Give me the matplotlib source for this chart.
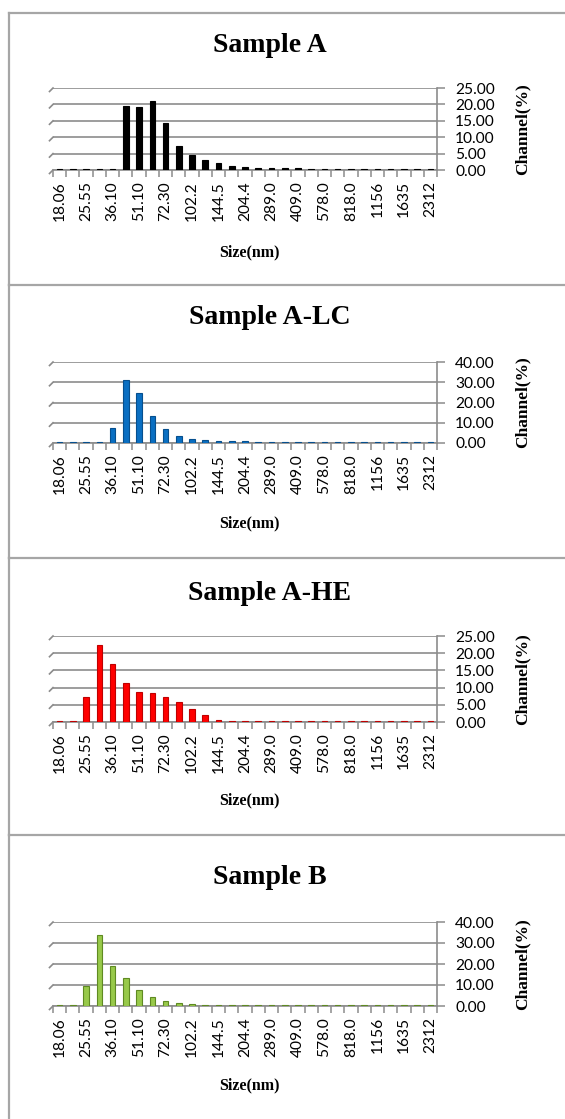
import matplotlib
matplotlib.use("Agg")
import matplotlib.pyplot as plt
from matplotlib.ticker import FixedLocator, FormatStrFormatter
from matplotlib.lines import Line2D

categories = ['18.06', '21.50', '25.55', '30.41', '36.10', '43.00', '51.10', '60.81',
              '72.30', '86.00', '102.2', '121.6', '144.5', '171.9', '204.4', '243.1',
              '289.0', '343.8', '409.0', '486.2', '578.0', '687.6', '818.0', '972.4',
              '1156', '1375', '1635', '1945', '2312']

sample_a = [0.3, 0.3, 0.3, 0.3, 0.3, 19.4, 19.2, 21.0, 14.2, 7.3, 4.6, 3.1, 2.0, 1.3, 0.9,
            0.7, 0.6, 0.5, 0.5, 0.4, 0.4, 0.3, 0.3, 0.3, 0.3, 0.3, 0.3, 0.3, 0.3]
sample_a_lc = [0.3, 0.3, 0.3, 0.3, 7.3, 31.0, 24.8, 13.4, 7.0, 3.7, 2.2, 1.5, 1.1, 0.9, 0.8,
               0.7, 0.6, 0.5, 0.4, 0.4, 0.3, 0.3, 0.3, 0.3, 0.3, 0.3, 0.3, 0.3, 0.3]
sample_a_he = [0.3, 0.3, 7.2, 22.3, 17.0, 11.4, 8.8, 8.4, 7.2, 5.9, 3.8, 1.9, 0.7, 0.3, 0.3,
               0.3, 0.3, 0.3, 0.3, 0.3, 0.3, 0.3, 0.3, 0.3, 0.3, 0.3, 0.3, 0.3, 0.3]
sample_b = [0.3, 0.3, 9.5, 33.8, 19.2, 13.2, 7.8, 4.3, 2.3, 1.3, 0.8, 0.5, 0.4, 0.3, 0.3,
            0.3, 0.3, 0.3, 0.3, 0.3, 0.3, 0.3, 0.3, 0.3, 0.3, 0.3, 0.3, 0.3, 0.3]

titles = ['Sample A', 'Sample A-LC', 'Sample A-HE', 'Sample B']
series = [sample_a, sample_a_lc, sample_a_he, sample_b]
ymax = [25, 40, 25, 40]
ystep = [5, 10, 5, 10]
faces = ['#000000', '#0a6fc2', '#ff0000', '#98c94a']
edges = ['#000000', '#064f8e', '#c00000', '#5f8a22']

W, H = 565, 1119
fig = plt.figure(figsize=(W / 100, H / 100), dpi=100)
fig.patch.set_facecolor('white')

panel_tops = [13, 285, 558, 835]
panel_bottoms = [285, 558, 835, 1119]
axes_px = [(88, 170), (362, 443), (636, 722), (922, 1006)]
title_y = [46, 318, 594, 878]
xlabel_y = [252, 523, 800, 1085]
ax_left, ax_right = 53, 437

def fx(x):
    return x / W

def fy(y):
    return 1 - y / H

frame_col = '#a6a6a6'
for top, bot in zip(panel_tops, panel_bottoms):
    fig.add_artist(Line2D([fx(9), fx(9)], [fy(top), fy(bot)], color=frame_col, lw=1.6))
    fig.add_artist(Line2D([fx(9), fx(W)], [fy(top), fy(top)], color=frame_col, lw=1.6))

serif = ['Liberation Serif', 'DejaVu Serif']
sans = ['Lato', 'DejaVu Sans']
grid_col = '#8c8c8c'
x = list(range(len(categories)))

for k in range(4):
    yt, yb = axes_px[k]
    ax = fig.add_axes([fx(ax_left), fy(yb), fx(ax_right - ax_left), (yb - yt) / H])
    ax.bar(x, series[k], width=0.42, color=faces[k], edgecolor=edges[k], linewidth=0.8, zorder=3)
    ax.set_xlim(-0.5, len(categories) - 0.5)
    ax.set_ylim(0, ymax[k])
    ax.set_facecolor('none')
    for s in ['left', 'top']:
        ax.spines[s].set_visible(False)
    ax.spines['right'].set_color(grid_col)
    ax.spines['bottom'].set_color(grid_col)
    ax.spines['right'].set_linewidth(1.2)
    ax.spines['bottom'].set_linewidth(1.2)
    yt_vals = list(range(0, ymax[k] + 1, ystep[k]))
    ax.yaxis.set_major_locator(FixedLocator(yt_vals))
    ax.yaxis.set_major_formatter(FormatStrFormatter('%.2f'))
    ax.yaxis.tick_right()
    ax.tick_params(axis='y', direction='out', length=6, width=1.1, color=grid_col,
                   labelsize=11.2, pad=7)
    for lab in ax.get_yticklabels():
        lab.set_fontfamily(sans)
    ax.grid(axis='y', color=grid_col, lw=1.2, zorder=0)
    ax.set_xticks(x[::2])
    ax.set_xticklabels(categories[::2], rotation=90, fontsize=11.2, fontfamily=sans)
    ax.set_xticks([i - 0.5 for i in range(len(categories) + 1)], minor=True)
    ax.tick_params(axis='x', which='major', length=0, pad=8)
    ax.tick_params(axis='x', which='minor', direction='out', length=5, width=1.1, color=grid_col)
    ppu = (yb - yt) / ymax[k]
    dx = 3.5 / ((ax_right - ax_left) / len(categories))
    for v in yt_vals:
        ax.plot([-0.5, -0.5 - dx], [v, v - 3.5 / ppu], color=grid_col, lw=1.2,
                clip_on=False, zorder=1)
    fig.text(fx(270), fy(title_y[k]), titles[k], ha='center', va='center',
             fontsize=20, fontweight='bold', fontfamily=serif)
    fig.text(fx(249), fy(xlabel_y[k]), 'Size(nm)', ha='center', va='center',
             fontsize=11.5, fontweight='bold', fontfamily=serif)
    fig.text(fx(523), fy((yt + yb) / 2), 'Channel(%)', ha='center', va='center',
             rotation=90, fontsize=12.5, fontweight='bold', fontfamily=serif)

fig.savefig('out.png', dpi=100)
